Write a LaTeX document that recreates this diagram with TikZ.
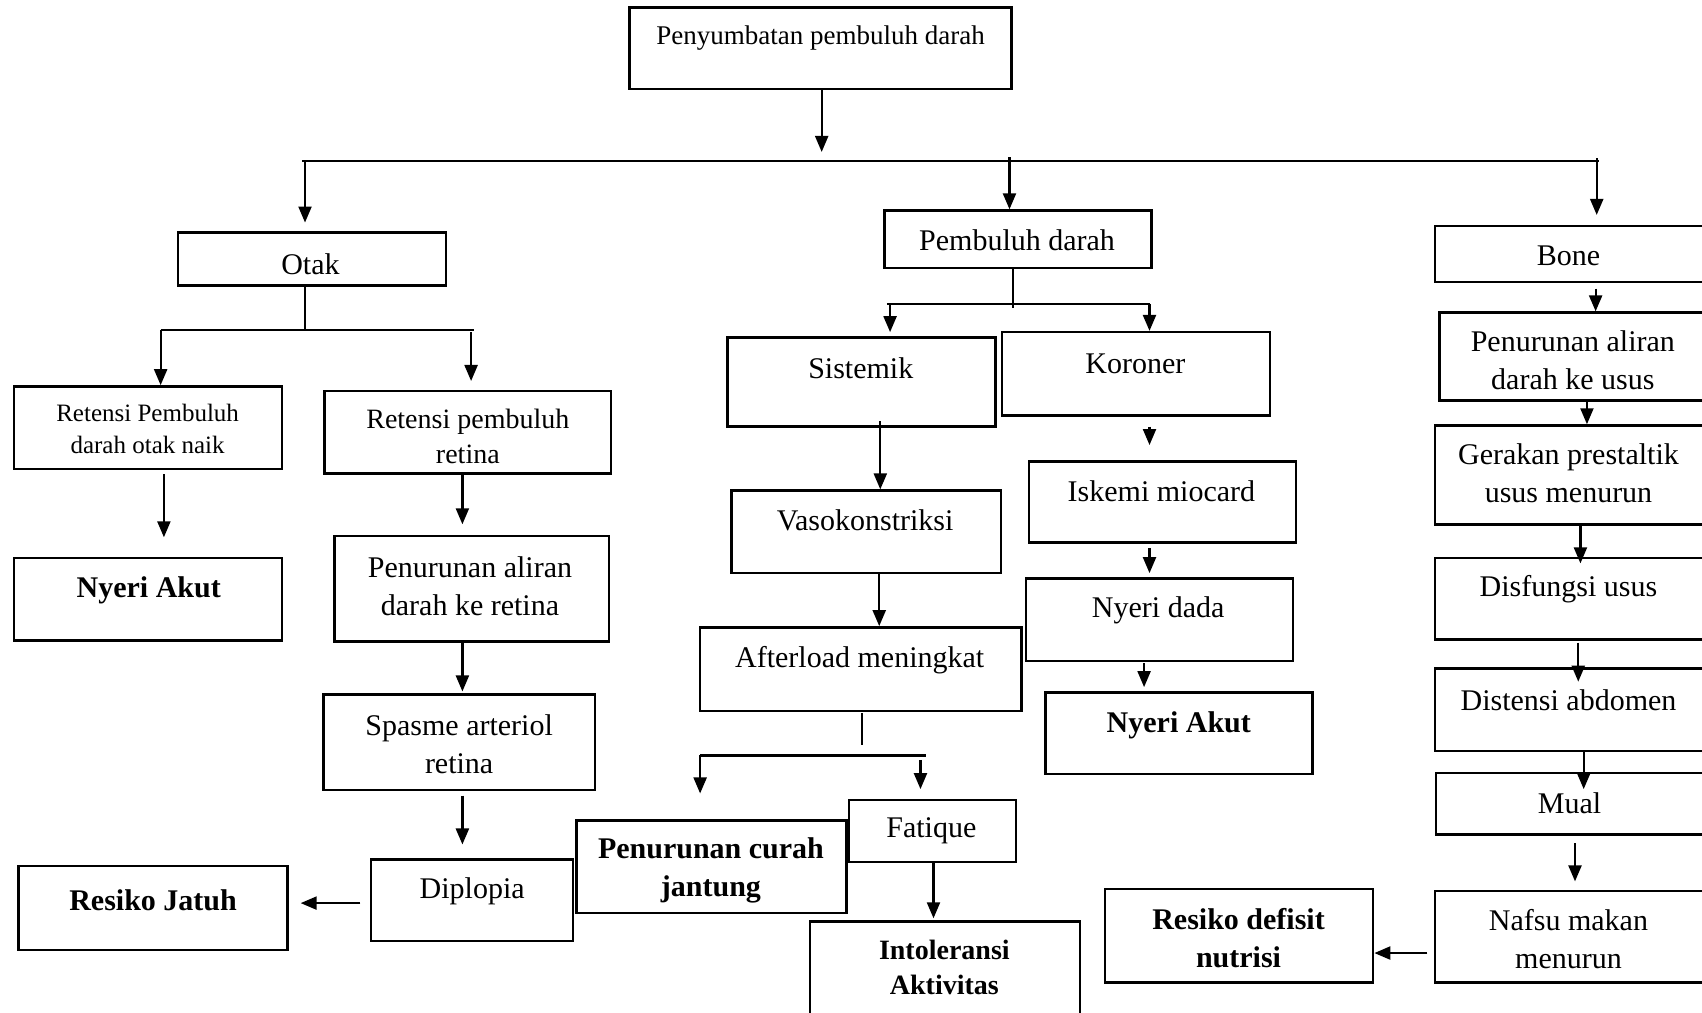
\documentclass[tikz,border=0pt]{standalone}
\usepackage{fontspec}
\setmainfont{Liberation Serif}
\usetikzlibrary{arrows.meta,fit}
\begin{document}
\begin{tikzpicture}[x=1.0855pt,y=-1.0855pt,
  box/.style={draw, line width=2.5pt, inner sep=0pt, fit={#1}},
  t/.style={font=\fontsize{30}{38}\selectfont, align=center, inner sep=0pt},
  tb/.style={font=\fontsize{30}{38}\selectfont\bfseries, align=center, inner sep=0pt},
  arr/.style={line width=2.2pt, -{Triangle[length=16pt,width=13pt]}},
  ln/.style={line width=2.2pt}]
\useasboundingbox (0,0) rectangle (1568,933);
\clip (0,0) rectangle (1568,933);
\fill[white] (0,0) rectangle (1568,933);

% ---------- boxes ----------
\node[box={(580,7) (932,82)}] (top) {};
\node[box={(164,214) (411,263)}] (otak) {};
\node[box={(13,356) (260,432)}] (rpo) {};
\node[box={(299,360) (563,436)}] (rpr) {};
\node[box={(13,514) (260,590)}] (na1) {};
\node[box={(308,494) (561,591)}] (par) {};
\node[box={(298,640) (548,728)}] (spa) {};
\node[box={(342,792) (528,867)}] (dip) {};
\node[box={(17,798) (265,875)}] (rj) {};
\node[box={(815,194) (1061,247)}] (pd) {};
\node[box={(670,311) (917,393)}] (sis) {};
\node[box={(923,306) (1170,383)}] (kor) {};
\node[box={(674,452) (922,528)}] (vaso) {};
\node[box={(645,578) (941,655)}] (aft) {};
\node[box={(531,756) (780,841)}] (pcj) {};
\node[box={(782,737) (936,794)}] (fat) {};
\node[box={(746,849) (995,945)}] (ia) {};
\node[box={(948,425) (1194,500)}] (isk) {};
\node[box={(945,533) (1191,609)}] (nd) {};
\node[box={(963,638) (1209,713)}] (na2) {};
\node[box={(1322,208) (1590,260)}] (bone) {};
\node[box={(1326,288) (1590,369)}] (pau) {};
\node[box={(1322,392) (1590,483)}] (gpu) {};
\node[box={(1322,514) (1590,589)}] (dfu) {};
\node[box={(1322,616) (1590,692)}] (dab) {};
\node[box={(1323,712) (1590,769)}] (mual) {};
\node[box={(1322,821) (1590,905)}] (nmm) {};
\node[box={(1018,819) (1265,905)}] (rdn) {};

% ---------- texts ----------
\node[t, font=\fontsize{27}{33}\selectfont] (top-t) at (756,35) {Penyumbatan pembuluh darah};
\node[t] (otak-t) at (286,243) {Otak};
\node[t, font=\fontsize{25}{32.5}\selectfont] (rpo-t) at (136,395) {Retensi Pembuluh\\darah otak naik};
\node[t, font=\fontsize{28}{34.7}\selectfont] (rpr-t) at (431,402) {Retensi pembuluh\\retina};
\node[tb] (na1-t) at (137,544) {Nyeri Akut};
\node[t] (par-t) at (433,540) {Penurunan aliran\\darah ke retina};
\node[t] (spa-t) at (423,686) {Spasme arteriol\\retina};
\node[t] (dip-t) at (435,821) {Diplopia};
\node[tb] (rj-t) at (141,829) {Resiko Jatuh};
\node[t] (pd-t) at (937,221) {Pembuluh darah};
\node[t] (sis-t) at (793,339) {Sistemik};
\node[t] (kor-t) at (1046,335) {Koroner};
\node[t] (vaso-t) at (797,479) {Vasokonstriksi};
\node[t] (aft-t) at (792,608) {Afterload meningkat};
\node[tb] (pcj-t) at (655,802) {Penurunan curah\\jantung};
\node[t] (fat-t) at (858,765) {Fatique};
\node[tb, font=\fontsize{28}{34.7}\selectfont\bfseries] (ia-t) at (870,891) {Intoleransi\\Aktivitas};
\node[t] (isk-t) at (1070,453) {Iskemi miocard};
\node[t] (nd-t) at (1067,562) {Nyeri dada};
\node[tb] (na2-t) at (1086,668) {Nyeri Akut};
\node[t] (bone-t) at (1445,236) {Bone};
\node[t] (pau-t) at (1449,332) {Penurunan aliran\\darah ke usus};
\node[t] (gpu-t) at (1445,436) {Gerakan prestaltik\\usus menurun};
\node[t] (dfu-t) at (1445,543) {Disfungsi usus};
\node[t] (dab-t) at (1445,645) {Distensi abdomen};
\node[t] (mual-t) at (1446,740) {Mual};
\node[t] (nmm-t) at (1445,865) {Nafsu makan\\menurun};
\node[tb] (rdn-t) at (1141,864) {Resiko defisit\\nutrisi};

% ---------- junction coordinates ----------
\coordinate (h1L) at (278,148);
\coordinate (h1R) at (1473,148);
\coordinate (h2L) at (148,304);
\coordinate (h2R) at (437,304);
\coordinate (h3L) at (817,280);
\coordinate (h3R) at (1059,280);
\coordinate (h4L) at (645,696);
\coordinate (h4R) at (853,696);

% ---------- connectors ----------
\draw[arr] (top.south -| 757,0) -- (757,140);
\draw[ln] (h1L) -- (h1R);
\draw[arr] (281,148) -- (281,205);
\draw[arr] (930,145) -- (pd.north -| 930,0);
\draw[arr] (1471,146) -- (1471,198);

\draw[ln] (otak.south -| 281,0) -- (281,304);
\draw[ln] (h2L) -- (h2R);
\draw[arr] (h2L) -- (rpo.north -| 148,0);
\draw[arr] (434,306) -- (434,351);
\draw[arr] (151,437) -- (151,495);
\draw[arr] (426,437) -- (426,483);
\draw[arr] (par.south -| 426,0) -- (426,637);
\draw[arr] (426,733) -- (426,778);
\draw[arr] (332,832) -- (277,832);

\draw[ln] (pd.south -| 933,0) -- (933,284);
\draw[ln] (h3L) -- (h3R);
\draw[arr] (820,280) -- (820,306);
\draw[arr] (h3R) -- (kor.north -| 1059,0);
\draw[arr] (811,388) -- (vaso.north -| 811,0);
\draw[arr] (vaso.south -| 810,0) -- (aft.north -| 810,0);
\draw[ln] (794,657) -- (794,686);
\draw[ln] (h4L) -- (h4R);
\draw[arr] (h4L) -- (645,731);
\draw[arr] (848,700) -- (848,727);
\draw[arr] (fat.south -| 860,0) -- (860,846);

\draw[arr] (1059,393) -- (1059,410);
\draw[arr] (1059,505) -- (1059,528);
\draw[arr] (1054,611) -- (1054,633);

\draw[arr] (1470,266) -- (pau.north -| 1470,0);
\draw[arr] (pau.south -| 1462,0) -- (gpu.north -| 1462,0);
\draw[arr] (gpu.south -| 1456,0) -- (1456,519);
\draw[arr] (1454,592) -- (1454,628);
\draw[arr] (dab.south -| 1459,0) -- (1459,727);
\draw[arr] (1451,777) -- (1451,812);
\draw[arr] (1315,878) -- (rdn.east |- 0,878);
\end{tikzpicture}
\end{document}
